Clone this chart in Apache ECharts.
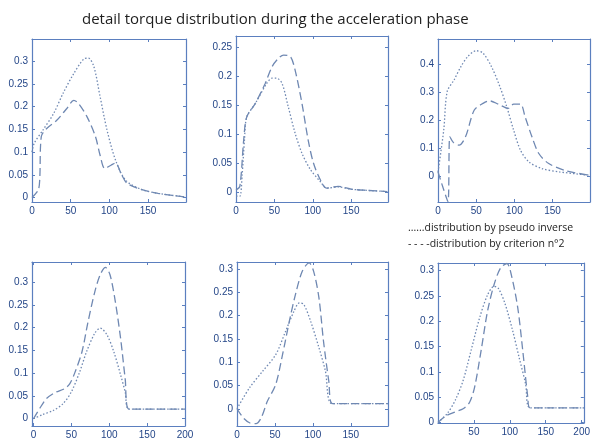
<!DOCTYPE html>
<html>
<head>
<meta charset="utf-8">
<script src="https://cdn.jsdelivr.net/npm/echarts@6/dist/echarts.min.js"></script>
<style>
  html, body { margin: 0; padding: 0; background: #fff; }
  #torque { width: 593px; height: 440px; }
</style>
</head>
<body>
<div id="torque"></div>
<script>
// tick labels
var xTicks0 = [0, 50, 100, 150];
var xTicksFull = [0, 50, 100, 150, 200];
var xTicksNoZero = [50, 100, 150, 200];
var yTicks30 = [0, 0.05, 0.1, 0.15, 0.2, 0.25, 0.3];
var yTicks25 = [0, 0.05, 0.1, 0.15, 0.2, 0.25];
var yTicks40 = [0, 0.1, 0.2, 0.3, 0.4];

// [x, y]: dotted = pseudo inverse, dashed = criterion n°2
var p1Pseudo = [[0,0.1],[3,0.12],[14,0.148],[28,0.185],[40,0.229],[54,0.273],[67,0.305],[73,0.307],[80,0.288],[88,0.222],[97,0.148],[108,0.082],[121,0.038],[141,0.018],[163,0.009],[199,0.001]];
var p1Crit = [[0,0],[8,0.016],[10,0.04],[12,0.134],[19,0.152],[32,0.17],[45,0.196],[54,0.214],[60,0.207],[71,0.178],[82,0.134],[88,0.093],[94,0.064],[102,0.071],[108,0.076],[115,0.053],[123,0.031],[141,0.018],[163,0.009],[199,0.001]];

var p2Pseudo = [[0,-0.007],[5,-0.007],[8,0.03],[11,0.09],[14,0.13],[25,0.153],[40,0.188],[47,0.197],[53,0.197],[60,0.188],[68,0.148],[77,0.102],[86,0.067],[97,0.039],[110,0.018],[118,0.007],[133,0.009],[151,0.005],[172,0.003],[197,0.001]];
var p2Crit = [[0,0.004],[5,0.01],[10,0.09],[14,0.13],[25,0.153],[38,0.188],[47,0.217],[55,0.231],[62,0.237],[71,0.234],[77,0.211],[86,0.153],[94,0.09],[101,0.05],[110,0.021],[118,0.007],[133,0.01],[151,0.005],[172,0.003],[197,0.001]];

var p3Pseudo = [[0,0.014],[7.5,0.164],[12,0.302],[21,0.344],[30,0.392],[39,0.428],[50,0.449],[59,0.44],[70,0.392],[81,0.32],[90,0.248],[99,0.164],[108,0.092],[119,0.05],[136,0.026],[159,0.014],[199,0.002]];
var p3Crit = [[0,0.014],[7.5,-0.05],[13,-0.093],[15.5,0.14],[20,0.12],[27.6,0.11],[36,0.14],[47.5,0.236],[59,0.26],[67.5,0.269],[79,0.257],[92,0.242],[99,0.257],[108,0.257],[114,0.212],[123,0.14],[132,0.08],[145,0.044],[168,0.018],[199,0.002]];

var p4Pseudo = [[0,0],[12,0.009],[26,0.018],[39,0.033],[50,0.059],[61,0.103],[70,0.147],[81,0.188],[88,0.199],[97,0.184],[106,0.147],[115,0.096],[121,0.059],[126,0.021],[160,0.021],[200,0.021]];
var p4Crit = [[0,0],[8,0.022],[17,0.044],[28,0.057],[41,0.066],[48,0.077],[55,0.103],[64,0.147],[72,0.213],[81,0.279],[88,0.316],[95,0.332],[101,0.316],[108,0.257],[115,0.176],[121,0.088],[126,0.021],[160,0.021],[200,0.021]];

var p5Pseudo = [[0,0],[16.5,0.045],[34,0.081],[51,0.116],[64,0.166],[75,0.209],[82,0.227],[88,0.224],[97,0.188],[108,0.131],[116.5,0.081],[125,0.011],[160,0.011],[199,0.011]];
var p5Crit = [[0,0],[8,-0.019],[16.5,-0.03],[25,-0.032],[32,-0.019],[40,0.016],[51,0.052],[60,0.116],[69,0.188],[77,0.245],[86,0.295],[95,0.313],[101,0.295],[108,0.238],[114,0.145],[121,0.059],[126,0.011],[160,0.011],[199,0.011]];

var p6Pseudo = [[0,0],[13,0.018],[24,0.044],[35,0.083],[46,0.142],[58,0.207],[69,0.252],[78,0.269],[84,0.265],[93,0.236],[104,0.181],[113,0.128],[122,0.076],[128,0.029],[165,0.029],[203,0.029]];
var p6Crit = [[0,0],[11,0.013],[24,0.021],[35,0.027],[44,0.04],[51,0.07],[60,0.142],[69,0.22],[78,0.272],[87,0.305],[96,0.314],[102,0.292],[111,0.227],[118,0.142],[125,0.05],[128,0.029],[165,0.029],[203,0.029]];

var chart = echarts.init(document.getElementById('torque'));

var boxColor = '#5b7fbf';
var labelColor = '#244688';
var curveColor = '#6f88b2';

var panels = [
    {box: [32, 39, 154, 163], x: [0, 199], y: [-0.01, 0.349], xt: xTicks0, yt: yTicks30, pseudo: p1Pseudo, crit: p1Crit},
    {box: [236, 36, 152, 166], x: [0, 198], y: [-0.017, 0.27], xt: xTicks0, yt: yTicks25, pseudo: p2Pseudo, crit: p2Crit},
    {box: [438, 39, 152, 163], x: [0, 199], y: [-0.094, 0.491], xt: xTicks0, yt: yTicks40, pseudo: p3Pseudo, crit: p3Crit},
    {box: [32, 262, 153, 164], x: [-2, 200], y: [-0.016, 0.344], xt: xTicksFull, yt: yTicks30, pseudo: p4Pseudo, crit: p4Crit},
    {box: [237, 262, 151, 165], x: [0, 199], y: [-0.037, 0.315], xt: xTicks0, yt: yTicks30, pseudo: p5Pseudo, crit: p5Crit},
    {box: [438, 263, 152, 160], x: [0, 203], y: [-0.001, 0.315], xt: xTicksNoZero, yt: yTicks30, pseudo: p6Pseudo, crit: p6Crit}
];

var grid = [], xAxis = [], yAxis = [], series = [];

panels.forEach(function (p, i) {
    grid.push({left: p.box[0], top: p.box[1], width: p.box[2], height: p.box[3]});
    // bottom/left axes with labels, top/right mirrored ticks only
    ['bottom', 'top'].forEach(function (pos) {
        xAxis.push({
            gridIndex: i, type: 'value', position: pos, min: p.x[0], max: p.x[1],
            axisLine: {show: true, onZero: false, lineStyle: {color: boxColor, width: 1.2}},
            axisTick: {show: true, inside: true, length: 3, customValues: p.xt, lineStyle: {color: boxColor}},
            axisLabel: {show: pos === 'bottom', customValues: p.xt, color: labelColor, fontSize: 10, margin: 4, fontFamily: 'Liberation Sans'},
            splitLine: {show: false}
        });
    });
    ['left', 'right'].forEach(function (pos) {
        yAxis.push({
            gridIndex: i, type: 'value', position: pos, min: p.y[0], max: p.y[1],
            axisLine: {show: true, onZero: false, lineStyle: {color: boxColor, width: 1.2}},
            axisTick: {show: true, inside: true, length: 3, customValues: p.yt, lineStyle: {color: boxColor}},
            axisLabel: {show: pos === 'left', customValues: p.yt, color: labelColor, fontSize: 10, margin: 4, fontFamily: 'Liberation Sans'},
            splitLine: {show: false}
        });
    });
    series.push({
        name: 'pseudo inverse', type: 'line', xAxisIndex: i * 2, yAxisIndex: i * 2,
        data: p.pseudo, showSymbol: false, smooth: 0.3, silent: true,
        lineStyle: {color: curveColor, width: 1.3, type: [1.5, 2]}
    });
    series.push({
        name: 'criterion n°2', type: 'line', xAxisIndex: i * 2, yAxisIndex: i * 2,
        data: p.crit, showSymbol: false, smooth: 0.3, silent: true,
        lineStyle: {color: curveColor, width: 1.3, type: [8, 4]}
    });
});

var option = {
    animation: false,
    backgroundColor: '#fff',
    title: {
        text: 'detail torque distribution during the acceleration phase',
        left: 77, top: 7,
        textStyle: {fontSize: 15, fontWeight: 'normal', color: '#1e1e1e', fontFamily: 'Open Sans'}
    },
    graphic: [
        {type: 'text', left: 408, top: 223, style: {text: '......distribution by pseudo inverse', fontSize: 10.5, fill: '#222', fontFamily: 'Open Sans'}},
        {type: 'text', left: 408, top: 239, style: {text: '- - - -distribution by criterion n°2', fontSize: 10.5, fill: '#222', fontFamily: 'Open Sans'}}
    ],
    grid: grid,
    xAxis: xAxis,
    yAxis: yAxis,
    series: series
};

chart.setOption(option);
window.addEventListener('resize', function () {
    chart.resize();
});
</script>
</body>
</html>
